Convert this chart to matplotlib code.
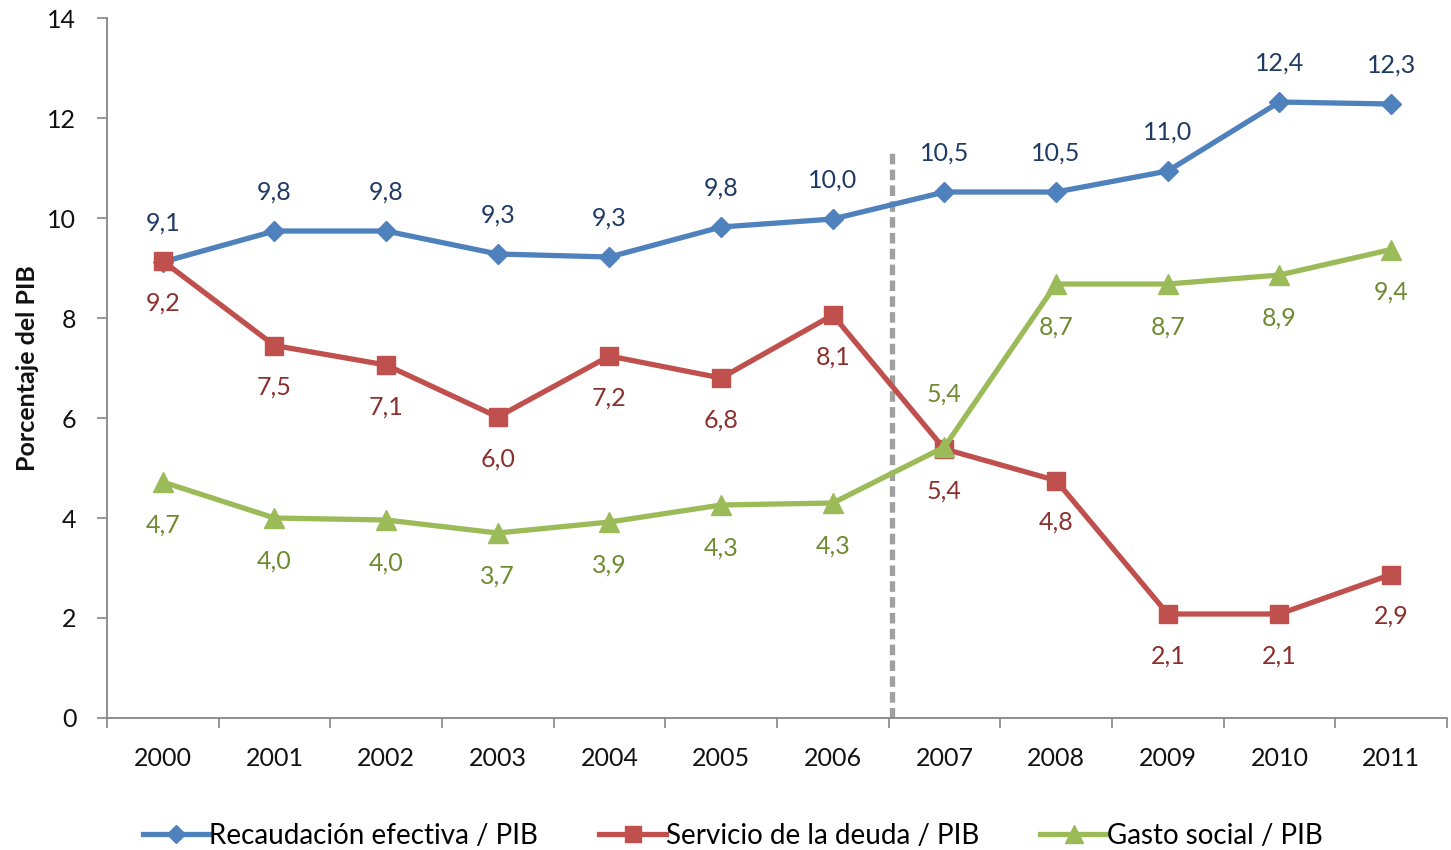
import matplotlib
matplotlib.use("Agg")
import matplotlib.pyplot as plt
import numpy as np

plt.rcParams['font.family'] = ['Lato', 'DejaVu Sans']

years = ['2000', '2001', '2002', '2003', '2004', '2005', '2006',
         '2007', '2008', '2009', '2010', '2011']
recaudacion = [9.12, 9.74, 9.74, 9.28, 9.22, 9.82, 9.98, 10.52, 10.52, 10.94, 12.32, 12.28]
servicio = [9.14, 7.45, 7.06, 6.02, 7.24, 6.80, 8.06, 5.38, 4.75, 2.08, 2.08, 2.87]
gasto = [4.72, 4.00, 3.96, 3.70, 3.92, 4.26, 4.30, 5.42, 8.68, 8.68, 8.86, 9.37]
lab_rec = ['9,1', '9,8', '9,8', '9,3', '9,3', '9,8', '10,0', '10,5', '10,5', '11,0', '12,4', '12,3']
lab_ser = ['9,2', '7,5', '7,1', '6,0', '7,2', '6,8', '8,1', '5,4', '4,8', '2,1', '2,1', '2,9']
lab_gas = ['4,7', '4,0', '4,0', '3,7', '3,9', '4,3', '4,3', '5,4', '8,7', '8,7', '8,9', '9,4']
gas_above = [False]*7 + [True] + [False]*4
names = ['Recaudación efectiva / PIB', 'Servicio de la deuda / PIB', 'Gasto social / PIB']

c_blue, c_red, c_green = '#4F81BD', '#C0504D', '#9BBB59'
t_blue, t_red, t_green = '#1F3A64', '#8B2F2C', '#6E8B30'

fig = plt.figure(figsize=(14.51, 8.5), dpi=100)
ax = fig.add_axes([0.0737, 0.1553, 0.9235, 0.8235])
x = np.arange(len(years))

ax.plot(x, recaudacion, color=c_blue, lw=3.8, marker='D', ms=10, label=names[0], zorder=3)
ax.plot(x, servicio, color=c_red, lw=3.8, marker='s', ms=13, label=names[1], zorder=4)
ax.plot(x, gasto, color=c_green, lw=3.8, marker='^', ms=14, label=names[2], zorder=5)

ax.plot([6.53, 6.53], [0, 11.4], color='#A0A0A0', lw=3.8, ls=(0, (2.0, 1.0)), zorder=2)

fs = 18
for i in range(len(years)):
    ax.annotate(lab_rec[i], (x[i], recaudacion[i]), xytext=(0, 28), textcoords='offset points',
                ha='center', va='center', fontsize=fs, color=t_blue)
    ax.annotate(lab_ser[i], (x[i], servicio[i]), xytext=(0, -30), textcoords='offset points',
                ha='center', va='center', fontsize=fs, color=t_red)
    off = 38 if gas_above[i] else -31
    ax.annotate(lab_gas[i], (x[i], gasto[i]), xytext=(0, off), textcoords='offset points',
                ha='center', va='center', fontsize=fs, color=t_green)

ax.set_xlim(-0.5, len(years) - 0.5)
ax.set_ylim(0, 14)
ax.set_yticks(np.arange(0, 15, 2))
ax.set_xticks(x)
ax.set_xticklabels(years)
ax.set_xticks(np.arange(-0.5, len(years), 1), minor=True)
ax.tick_params(axis='x', which='major', length=0, pad=21, labelsize=18, labelcolor='#111111')
ax.tick_params(axis='x', which='minor', length=7, width=1.2, color='#868686')
ax.tick_params(axis='y', length=7, width=1.2, color='#868686', labelsize=18, labelcolor='#111111', pad=15)

for s in ['top', 'right']:
    ax.spines[s].set_visible(False)
for s in ['left', 'bottom']:
    ax.spines[s].set_color('#868686')
    ax.spines[s].set_linewidth(1.3)

ax.set_ylabel('Porcentaje del PIB', fontsize=18, fontweight='bold', color='#111111', labelpad=6)

leg = fig.legend(loc='lower center', bbox_to_anchor=(0.505, -0.028), ncol=3, frameon=False,
                 fontsize=20, handlelength=2.4, handletextpad=0.0, columnspacing=2.2,
                 markerscale=0.9)

fig.savefig('out.png', dpi=100)
